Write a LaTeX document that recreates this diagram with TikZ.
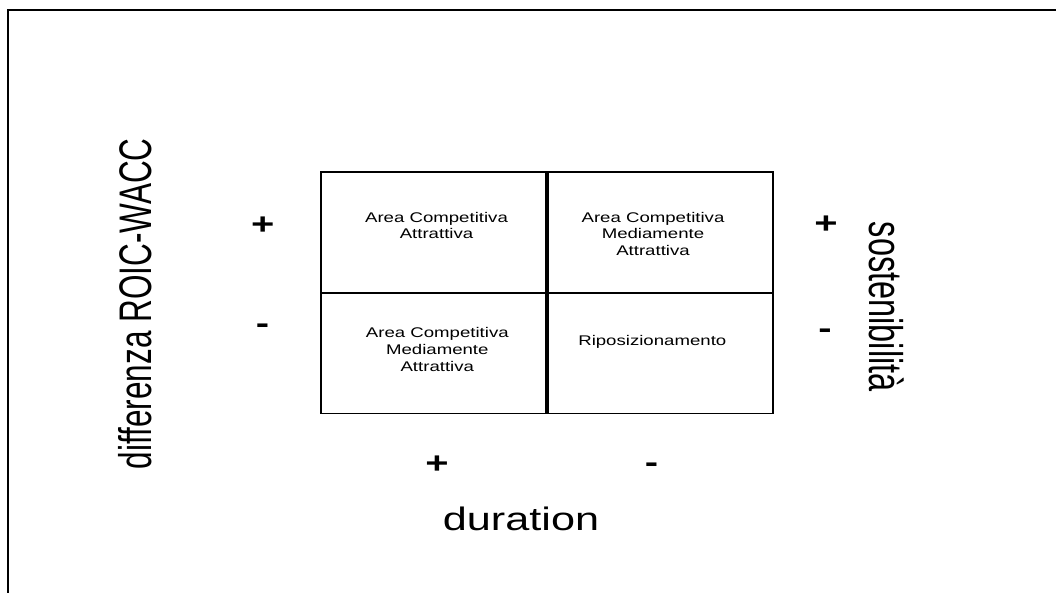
\documentclass[tikz,border=0pt]{standalone}
\usepackage{fontspec}
\setmainfont{Liberation Sans}
\usepackage{graphicx}
% wide lettering: horizontal text is stretched sideways, rotated text across its height
\newcommand{\widetext}[1]{\scalebox{1.33}[1]{#1}}
\newcommand{\tallglyphs}[1]{\scalebox{1}[1.45]{#1}}
\newcommand{\cellstack}[1]{\widetext{\begin{tabular}[t]{@{}c@{}}#1\end{tabular}}}
\begin{document}
\begin{tikzpicture}[x=1pt,y=-1pt,
  celltext/.style={anchor=base, inner sep=0pt, font=\fontsize{14}{16.7}\selectfont},
  sign/.style={anchor=base, inner sep=0pt, font=\fontsize{30}{36}\selectfont\bfseries},
  axislabel/.style={inner sep=0pt, font=\fontsize{#1}{38}\selectfont},
  frameline/.style={line width=2pt},
  matrixbox/.style={draw, line width=1.5pt, inner sep=0pt,
    minimum width=452pt, minimum height=241.5pt},
  vdivider/.style={line width=3.5pt},
  hdivider/.style={line width=2.5pt}]
\useasboundingbox (0,0) rectangle (1056,593);
\clip (0,0) rectangle (1056,593);
\fill[white] (0,0) rectangle (1056,593);

% page frame, open to the right and below
\coordinate (frameBottom) at (8,610);
\coordinate (frameCorner) at (8,10);
\coordinate (frameRight) at (1070,10);
\draw[frameline] (frameBottom) -- (frameCorner) -- (frameRight);

% 2x2 matrix
\node[matrixbox] (grid) at (547,292.75) {};
\draw[vdivider] (grid.north) -- (grid.south);
\draw[hdivider] (grid.west) -- (grid.east);

% quadrant labels
\node[celltext] (tl) at (436.5,222.3) {\cellstack{Area Competitiva\\Attrattiva}};
\node[celltext] (tr) at (653,222.3) {\cellstack{Area Competitiva\\Mediamente\\Attrattiva}};
\node[celltext] (bl) at (437.3,337.7) {\cellstack{Area Competitiva\\Mediamente\\Attrattiva}};
\node[celltext] (br) at (652.3,345.3) {\cellstack{Riposizionamento}};

% signs along the axes
\node[sign] (lplus) at (262.8,234.4) {\widetext{+}};
\node[sign] (lminus) at (262.5,333.5) {\widetext{-}};
\node[sign] (rplus) at (826,233.4) {\widetext{+}};
\node[sign] (rminus) at (825,338.5) {\widetext{-}};
\node[sign] (bplus) at (437,473.4) {\widetext{+}};
\node[sign] (bminus) at (651.5,472.5) {\widetext{-}};

% axis titles
\node[axislabel=31.5, rotate=90] (roic) at (135.5,303.7) {\tallglyphs{differenza ROIC-WACC}};
\node[axislabel=32.5, rotate=-90] (sost) at (886.5,306.7) {\tallglyphs{sostenibilità}};
\node[axislabel=32.5, anchor=base] (dur) at (521,530.7) {\widetext{duration}};
\end{tikzpicture}
\end{document}
